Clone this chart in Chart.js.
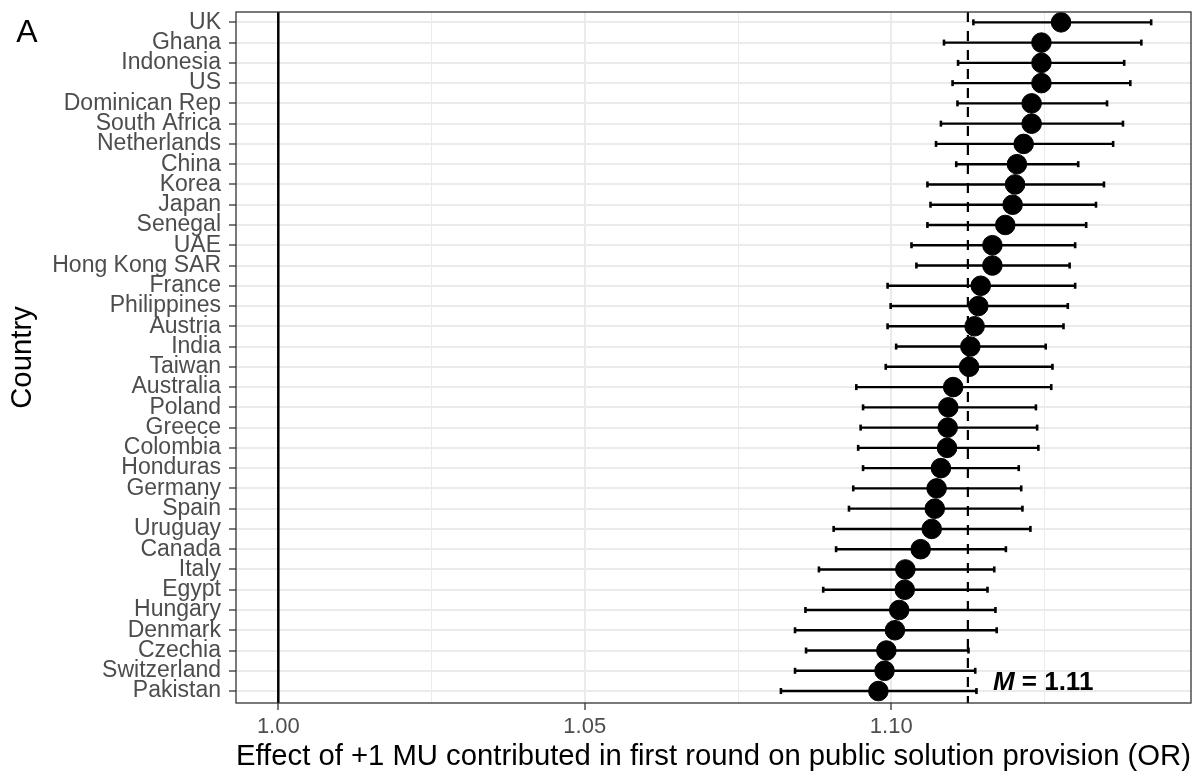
<!DOCTYPE html>
<html>
<head>
<meta charset="utf-8">
<script src="https://cdn.jsdelivr.net/npm/chart.js@4.4.1/dist/chart.umd.min.js"></script>
<style>
  html, body { margin: 0; padding: 0; background: #ffffff; }
  #wrap { width: 1193px; height: 774px; position: relative; }
</style>
</head>
<body>
<div id="wrap"><canvas id="c" width="1193" height="774"></canvas></div>
<script>
const countries = ['UK','Ghana','Indonesia','US','Dominican Rep','South Africa','Netherlands','China','Korea','Japan','Senegal','UAE','Hong Kong SAR','France','Philippines','Austria','India','Taiwan','Australia','Poland','Greece','Colombia','Honduras','Germany','Spain','Uruguay','Canada','Italy','Egypt','Hungary','Denmark','Czechia','Switzerland','Pakistan'];
const estimates = [1.1277,1.1245,1.1245,1.1245,1.1229,1.1229,1.1216,1.1205,1.1202,1.1198,1.1186,1.1165,1.1165,1.1146,1.1142,1.1136,1.1129,1.1127,1.1101,1.1093,1.1092,1.1091,1.1081,1.1074,1.1071,1.1066,1.1048,1.1023,1.1022,1.1013,1.1006,1.0992,1.0989,1.0979];
const lower = [1.1134,1.1086,1.1109,1.1100,1.1108,1.1081,1.1073,1.1106,1.1059,1.1064,1.1059,1.1033,1.1041,1.0994,1.0999,1.0994,1.1008,1.0991,1.0943,1.0954,1.0950,1.0946,1.0954,1.0938,1.0931,1.0906,1.0910,1.0882,1.0889,1.0860,1.0843,1.0861,1.0843,1.0820];
const upper = [1.1424,1.1408,1.1380,1.1390,1.1352,1.1378,1.1362,1.1305,1.1347,1.1334,1.1318,1.1300,1.1291,1.1300,1.1288,1.1281,1.1252,1.1263,1.1261,1.1236,1.1238,1.1240,1.1208,1.1212,1.1214,1.1227,1.1187,1.1168,1.1157,1.1170,1.1172,1.1126,1.1137,1.1139];
const meanOR = 1.1125;
const nullOR = 1.00;
const xTickValues = [1.00, 1.025, 1.05, 1.075, 1.10, 1.125];
const xMajorTicks = [1.00, 1.05, 1.10];
const xTitle = 'Effect of +1 MU contributed in first round on public solution provision (OR)';
const yTitle = 'Country';
const panelTag = 'A';

const FONT = "'Liberation Sans', Arial, Helvetica, sans-serif";
Chart.defaults.font.family = FONT;

const isMajor = v => xMajorTicks.some(m => Math.abs(m - v) < 1e-9);

// error bar segments (gaps separate countries)
const barData = [];
countries.forEach((c, i) => {
  barData.push({x: lower[i], y: i});
  barData.push({x: upper[i], y: i});
  barData.push({x: upper[i], y: null});
});
const capData = [];
countries.forEach((c, i) => {
  capData.push({x: lower[i], y: i});
  capData.push({x: upper[i], y: i});
});
const pointData = countries.map((c, i) => ({x: estimates[i], y: i}));

const decorPlugin = {
  id: 'decor',
  beforeDatasetsDraw(chart) {
    const {ctx, chartArea, scales} = chart;
    const x1 = scales.x.getPixelForValue(nullOR);
    const xm = scales.x.getPixelForValue(meanOR);
    ctx.save();
    ctx.strokeStyle = '#000000';
    ctx.lineWidth = 2.5;
    ctx.beginPath();
    ctx.moveTo(x1, chartArea.top);
    ctx.lineTo(x1, chartArea.bottom);
    ctx.stroke();
    ctx.lineWidth = 2.2;
    ctx.setLineDash([10, 9]);
    ctx.beginPath();
    ctx.moveTo(xm, chartArea.top);
    ctx.lineTo(xm, chartArea.bottom);
    ctx.stroke();
    ctx.restore();
  },
  afterDatasetsDraw(chart) {
    const {ctx, chartArea, scales} = chart;
    ctx.save();
    ctx.strokeStyle = '#333333';
    ctx.lineWidth = 1.3;
    ctx.strokeRect(chartArea.left, chartArea.top, chartArea.right - chartArea.left, chartArea.bottom - chartArea.top);
    // mean annotation
    const xm = scales.x.getPixelForValue(meanOR);
    const yl = scales.y.getPixelForValue(countries.length - 1) - 8;
    ctx.fillStyle = '#000000';
    ctx.textBaseline = 'middle';
    ctx.textAlign = 'left';
    let tx = xm + 25;
    ctx.font = 'italic bold 26px ' + FONT;
    ctx.fillText('M', tx, yl);
    tx += ctx.measureText('M').width;
    ctx.font = 'bold 26px ' + FONT;
    ctx.fillText(' = ' + meanOR.toFixed(2), tx, yl);
    // panel tag
    ctx.font = '32px ' + FONT;
    ctx.textAlign = 'center';
    ctx.fillText(panelTag, 27, 33);
    ctx.restore();
  }
};

new Chart(document.getElementById('c'), {
  type: 'scatter',
  data: {
    datasets: [
      {
        type: 'scatter',
        data: pointData,
        pointRadius: 9.8,
        pointHoverRadius: 9.8,
        pointBackgroundColor: '#000000',
        pointBorderColor: '#000000',
        pointBorderWidth: 1,
        order: 0
      },
      {
        type: 'line',
        data: barData,
        showLine: true,
        spanGaps: false,
        borderColor: '#000000',
        borderWidth: 2.4,
        pointRadius: 0,
        pointHoverRadius: 0,
        fill: false,
        tension: 0,
        order: 1
      },
      {
        type: 'scatter',
        data: capData,
        pointStyle: 'line',
        rotation: 90,
        pointRadius: 3,
        pointHoverRadius: 3,
        pointBorderColor: '#000000',
        pointBorderWidth: 2.6,
        order: 2
      }
    ]
  },
  options: {
    responsive: false,
    animation: false,
    devicePixelRatio: 1,
    layout: { autoPadding: false, padding: { left: 0, top: 12, right: 2, bottom: 0 } },
    plugins: { legend: { display: false }, tooltip: { enabled: false } },
    events: [],
    scales: {
      x: {
        type: 'linear',
        min: 0.9931,
        max: 1.1489,
        bounds: 'data',
        afterBuildTicks: s => { s.ticks = xTickValues.map(v => ({value: v})); },
        afterFit: s => { s.height = 71; s.paddingLeft = 0; s.paddingRight = 0; s.paddingTop = 0; s.paddingBottom = 0; },
        border: { display: false },
        grid: {
          color: '#EBEBEB',
          lineWidth: ctx => (ctx.tick && isMajor(ctx.tick.value)) ? 2 : 1,
          tickColor: ctx => (ctx.tick && isMajor(ctx.tick.value)) ? '#333333' : 'rgba(0,0,0,0)',
          tickLength: 7,
          tickWidth: 1.3,
          drawTicks: true
        },
        ticks: {
          autoSkip: false,
          maxRotation: 0,
          padding: 4,
          color: '#4D4D4D',
          font: { size: 22 },
          callback: v => isMajor(v) ? v.toFixed(2) : ''
        },
        title: {
          display: true,
          text: xTitle,
          color: '#000000',
          font: { size: 29.3 },
          padding: { top: 0, bottom: 0 }
        }
      },
      y: {
        type: 'linear',
        reverse: true,
        min: -0.51,
        max: 33.59,
        bounds: 'data',
        afterBuildTicks: s => { s.ticks = countries.map((c, i) => ({value: i})); },
        afterFit: s => { s.width = 236; s.paddingLeft = 0; s.paddingRight = 0; s.paddingTop = 0; s.paddingBottom = 0; },
        border: { display: false },
        grid: {
          color: '#EBEBEB',
          lineWidth: 2,
          tickColor: '#333333',
          tickLength: 7,
          tickWidth: 1.3
        },
        ticks: {
          autoSkip: false,
          padding: 8,
          color: '#4D4D4D',
          font: { size: 23 },
          callback: v => countries[v] !== undefined ? countries[v] : ''
        },
        title: {
          display: true,
          text: yTitle,
          color: '#000000',
          font: { size: 29.3 },
          padding: { top: 5, bottom: 0 }
        }
      }
    }
  },
  plugins: [decorPlugin]
});
</script>
</body>
</html>
